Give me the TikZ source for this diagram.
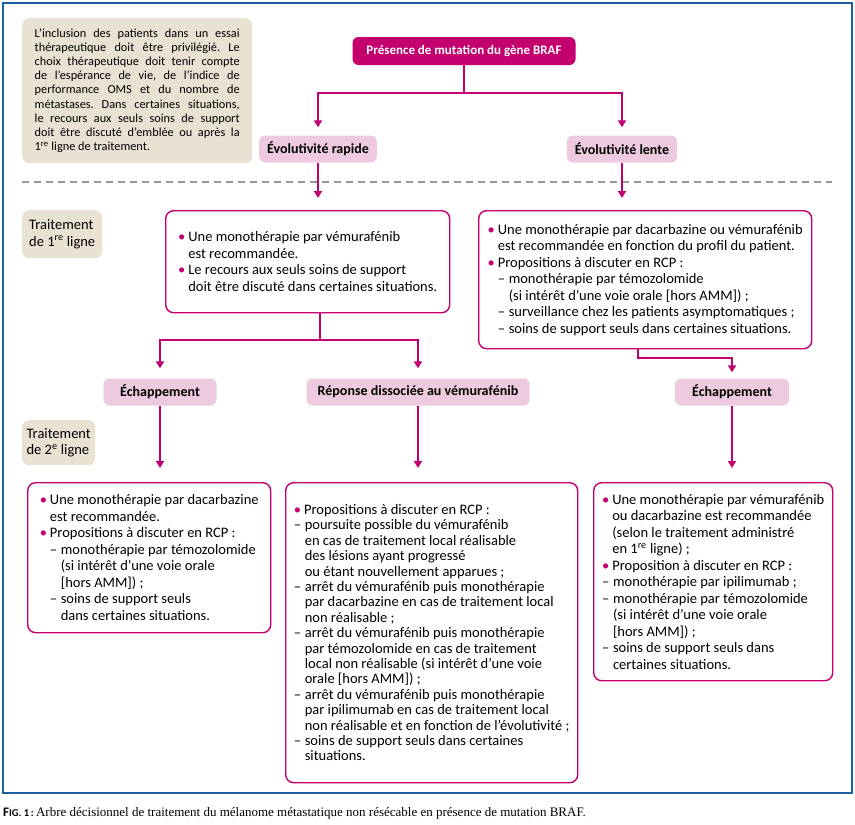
\documentclass[tikz,border=0pt]{standalone}
\usepackage{fontspec}
\setmainfont{Carlito}
\newfontfamily\legende{Liberation Serif}
\usetikzlibrary{arrows.meta}
\frenchspacing

\definecolor{rose}{RGB}{196,0,110}
\definecolor{rosepale}{RGB}{237,202,224}
\definecolor{beige}{RGB}{233,226,211}
\definecolor{cadre}{RGB}{28,98,158}
\definecolor{tirets}{RGB}{150,150,150}

% puces et retraits des listes
\newcommand\puce{\makebox[0.7em][l]{\textcolor{rose}{\textbullet}}}
\newcommand\tiret{\makebox[0.75em][l]{--}}
\newcommand\ret{\hspace*{0.7em}}
\newcommand\retd{\hspace*{0.75em}}
\newcommand\er{1\textsuperscript{re}}

\tikzset{
  titre/.style={fill=rose, text=white, font=\bfseries\fontsize{13}{15}\selectfont,
    rounded corners=6pt, minimum height=28pt, minimum width=223pt},
  pilule/.style={fill=rosepale, font=\bfseries\fontsize{14}{16}\selectfont,
    rounded corners=6pt, minimum height=27pt, inner xsep=8pt},
  boite/.style={draw=rose, line width=1.4pt, fill=white, rounded corners=8pt,
    align=left, font=\fontsize{14.5}{16.5}\selectfont, anchor=north west},
  etiquette/.style={fill=beige, rounded corners=7pt, align=left,
    font=\fontsize{14.5}{16.5}\selectfont, anchor=north west},
  lien/.style={draw=rose, line width=2pt},
  fleche/.style={lien, -{Triangle[width=8pt,length=7pt]}},
}

\begin{document}
\begin{tikzpicture}[x=1pt, y=-1pt]
\useasboundingbox (0,0) rectangle (855,825);
\draw[cadre, line width=2pt] (3,3) rectangle (852,793);

% note d'introduction
\node[fill=beige, rounded corners=7pt, anchor=north west, minimum width=230pt,
  minimum height=145pt, text width=205pt, align=justify,
  font=\fontsize{12.3}{14.2}\selectfont] (note) at (22,18)
  {\hyphenpenalty=10000 L’inclusion des patients dans un essai\linebreak
   thérapeutique doit être privilégié. Le\linebreak
   choix thérapeutique doit tenir compte\linebreak
   de l’espérance de vie, de l’indice de\linebreak
   performance OMS et du nombre de\linebreak
   métastases. Dans certaines situations,\linebreak
   le recours aux seuls soins de support\linebreak
   doit être discuté d’emblée ou après la\linebreak
   \er{} ligne de traitement.};

\node[titre] (braf) at (464,51) {Présence de mutation du gène BRAF};
\node[pilule] (rapide) at (318,149) {Évolutivité rapide};
\node[pilule] (lente) at (622,149) {Évolutivité lente};

\draw[tirets, line width=1.2pt, dash pattern=on 7pt off 5pt] (22,182) -- (832,182);

% traitement de 1re ligne
\node[etiquette, minimum width=80pt, minimum height=48pt] (lig1) at (22,210)
  {Traitement\\de \er{} ligne};
\node[boite, minimum width=284pt, minimum height=102pt] (l1r) at (165,210)
  {\puce Une monothérapie par vémurafénib\\
   \ret est recommandée.\\
   \puce Le recours aux seuls soins de support\\
   \ret doit être discuté dans certaines situations.};
\node[boite, minimum width=333pt, minimum height=138pt] (l1l) at (478,210)
  {\puce Une monothérapie par dacarbazine ou vémurafénib\\
   \ret est recommandée en fonction du profil du patient.\\
   \puce Propositions à discuter en RCP :\\
   \ret\tiret monothérapie par témozolomide\\
   \ret\retd (si intérêt d’une voie orale [hors AMM]) ;\\
   \ret\tiret surveillance chez les patients asymptomatiques ;\\
   \ret\tiret soins de support seuls dans certaines situations.};

\node[pilule, minimum width=113pt] (echap1) at (160,392) {Échappement};
\node[pilule, minimum width=223pt] (dissoc) at (418,392) {Réponse dissociée au vémurafénib};
\node[pilule, minimum width=114pt] (echap2) at (732,392) {Échappement};

% traitement de 2e ligne
\node[etiquette, minimum width=73pt, minimum height=45pt] (lig2) at (22,420)
  {Traitement\\de 2\textsuperscript{e} ligne};
\node[boite, minimum width=243pt, minimum height=150pt] (l2a) at (27,482)
  {\puce Une monothérapie par dacarbazine\\
   \ret est recommandée.\\
   \puce Propositions à discuter en RCP :\\
   \ret\tiret monothérapie par témozolomide\\
   \ret\retd (si intérêt d’une voie orale\\
   \ret\retd [hors AMM]) ;\\
   \ret\tiret soins de support seuls\\
   \ret\retd dans certaines situations.};
\node[boite, minimum width=292pt, minimum height=300pt,
  font=\fontsize{14.5}{15.4}\selectfont] (l2b) at (285,482)
  {\puce Propositions à discuter en RCP :\\
   \tiret poursuite possible du vémurafénib\\
   \retd en cas de traitement local réalisable\\
   \retd des lésions ayant progressé\\
   \retd ou étant nouvellement apparues ;\\
   \tiret arrêt du vémurafénib puis monothérapie\\
   \retd par dacarbazine en cas de traitement local\\
   \retd non réalisable ;\\
   \tiret arrêt du vémurafénib puis monothérapie\\
   \retd par témozolomide en cas de traitement\\
   \retd local non réalisable (si intérêt d’une voie\\
   \retd orale [hors AMM]) ;\\
   \tiret arrêt du vémurafénib puis monothérapie\\
   \retd par ipilimumab en cas de traitement local\\
   \retd non réalisable et en fonction de l’évolutivité ;\\
   \tiret soins de support seuls dans certaines\\
   \retd situations.};
\node[boite, minimum width=239pt, minimum height=198pt] (l2c) at (593,482)
  {\puce Une monothérapie par vémurafénib\\
   \ret ou dacarbazine est recommandée\\
   \ret (selon le traitement administré\\
   \ret en \er{} ligne) ;\\
   \puce Proposition à discuter en RCP :\\
   \tiret monothérapie par ipilimumab ;\\
   \tiret monothérapie par témozolomide\\
   \retd (si intérêt d’une voie orale\\
   \retd [hors AMM]) ;\\
   \tiret soins de support seuls dans\\
   \retd certaines situations.};

% connecteurs
\coordinate (j1) at (464,93);
\draw[lien] (braf.south) -- (j1);
\draw[fleche, shorten >=8pt] (j1) -| (rapide.north);
\draw[fleche, shorten >=8pt] (j1) -| (lente.north);
\draw[fleche, shorten >=12pt] (rapide.south) -- (rapide.south |- l1r.north);
\draw[fleche, shorten >=12pt] (lente.south) -- (lente.south |- l1l.north);

\coordinate (j2) at (320,340);
\draw[lien] (l1r.south -| j2) -- (j2);
\draw[fleche, shorten >=10pt] (j2) -| (echap1.north);
\draw[fleche, shorten >=10pt] (j2) -| (dissoc.north);
\coordinate (j3) at (638,358);
\draw[fleche, shorten >=6pt] (l1l.south -| j3) -- (j3) -| (echap2.north);

\draw[fleche, shorten >=14pt] (echap1.south) -- (echap1.south |- l2a.north);
\draw[fleche, shorten >=14pt] (dissoc.south) -- (dissoc.south |- l2b.north);
\draw[fleche, shorten >=14pt] (echap2.south) -- (echap2.south |- l2c.north);

% legende
\node[anchor=west, inner sep=0pt] (leg) at (3,813)
  {{\bfseries\fontsize{13}{15}\selectfont F\fontsize{10.5}{12}\selectfont IG. 1\,:}
   {\legende\fontsize{13}{15}\selectfont Arbre décisionnel de traitement du mélanome
   métastatique non résécable en présence de mutation BRAF.}};
\end{tikzpicture}
\end{document}
